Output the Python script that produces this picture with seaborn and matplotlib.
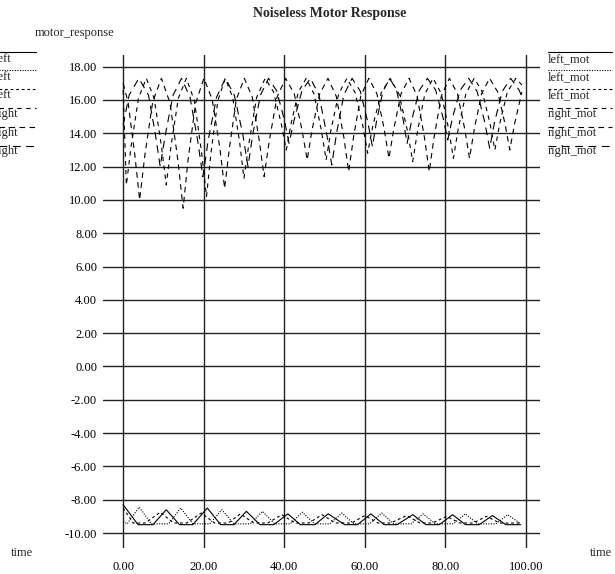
import matplotlib
matplotlib.use("Agg")
import matplotlib.pyplot as plt
from matplotlib.lines import Line2D
import seaborn as sns
import pandas as pd

# ---------------- data ----------------
title = "Noiseless Motor Response"
y_label = "motor_response"
x_label = "time"
x_ticks = [0, 20, 40, 60, 80, 100]
y_ticks = [18, 16, 14, 12, 10, 8, 6, 4, 2, 0, -2, -4, -6, -8, -10]
legend_left = ["left", "left", "left", "right", "right", "right"]
legend_right = ["left_mot", "left_mot", "left_mot", "right_mot", "right_mot", "right_mot"]

# lower group (near -9)
s1_x = [0, 3.7, 7.4, 10.7, 14.0, 17.3, 20.9, 24.2, 27.5, 30.6, 34.0, 37.4, 40.9, 44.0, 47.6,
        50.9, 55.0, 58.2, 61.5, 64.8, 68.0, 71.9, 75.2, 78.5, 81.8, 85.0, 88.4, 91.7, 95.0, 98.7]
s1_y = [-8.3, -9.5, -9.5, -8.6, -9.5, -9.5, -8.5, -9.5, -9.5, -8.7, -9.5, -9.5, -8.85, -9.5, -9.5,
        -8.85, -9.5, -9.5, -8.85, -9.5, -9.5, -8.9, -9.5, -9.5, -8.9, -9.5, -9.5, -8.95, -9.5, -9.5]

s2_x = [0, 1.0, 4.0, 7.0, 11.3, 14.3, 17.3, 21.5, 24.5, 27.5, 31.6, 34.6, 37.6, 41.5, 44.5, 47.5,
        51.3, 54.3, 57.3, 61.2, 64.2, 67.2, 71.5, 74.5, 77.5, 82.0, 85.0, 88.0, 92.5, 95.5, 98.7]
s2_y = [-9.3, -9.45, -8.45, -9.45, -9.45, -8.5, -9.45, -9.45, -8.6, -9.45, -9.45, -8.7, -9.45,
        -9.45, -8.75, -9.45, -9.45, -8.8, -9.45, -9.45, -8.8, -9.45, -9.45, -8.85, -9.45, -9.45,
        -8.85, -9.45, -9.45, -8.9, -9.45]

s3_x = [0, 2.5, 5.5, 9.2, 12.5, 15.8, 19.4, 22.7, 26.1, 29.1, 32.4, 35.9, 39.4, 42.7, 46.1,
        49.4, 52.7, 56.7, 60.0, 63.3, 66.4, 70.4, 73.7, 76.8, 80.3, 83.6, 86.9, 90.2, 93.5, 98.7]
s3_y = [-8.5, -9.4, -9.4, -8.75, -9.4, -9.4, -8.8, -9.4, -9.4, -8.85, -9.4, -9.4, -8.9, -9.4, -9.4,
        -8.9, -9.4, -9.4, -8.95, -9.4, -9.4, -8.95, -9.4, -9.4, -9.0, -9.4, -9.4, -9.0, -9.4, -9.4]

# upper group (near 10..17.3)
s4_x = [0, 0.8, 2.0, 3.8, 5.75, 7.7, 9.5, 10.7, 11.9, 13.7, 15.7, 17.7, 19.5, 20.7,
        21.8, 23.5, 25.35, 27.2, 28.9, 30.0, 31.3, 33.15, 35.25, 37.35, 39.25, 40.5,
        41.7, 43.5, 45.45, 47.4, 49.2, 50.4, 51.6, 53.5, 55.55, 57.6, 59.5, 60.7,
        62.0, 64.1, 66.3, 68.5, 70.6, 71.9, 73.1, 74.9, 76.95, 79.0, 80.8, 82.0,
        83.2, 85.1, 87.15, 89.2, 91.1, 92.3, 93.5, 95.4, 97.5, 99.0]
s4_y = [16.6, 10.9, 13.25, 16.1, 17.3, 16.1, 13.25, 10.9, 13.25, 16.1, 17.3, 15.94, 12.8, 10.2,
        12.8, 15.94, 17.3, 16.15, 13.5, 11.3, 13.5, 16.15, 17.3, 16.48, 14.58, 13.0,
        14.58, 16.48, 17.3, 16.36, 14.2, 12.4, 14.2, 16.36, 17.3, 16.44, 14.46, 12.8,
        14.46, 16.44, 17.3, 16.35, 14.14, 12.3, 14.14, 16.35, 17.3, 16.38, 14.27, 12.5,
        14.27, 16.38, 17.3, 16.48, 14.58, 13.0, 14.58, 16.48, 17.3, 16.9]

s5_x = [0, 1.2, 2.9, 4.1, 5.4, 7.35, 9.5, 11.65, 13.6, 14.9, 16.1, 18.0, 20.05, 22.1, 24.0, 25.2,
        26.4, 28.1, 30.1, 32.05, 33.8, 35.0, 36.3, 38.2, 40.35, 42.5, 44.4, 45.7,
        46.9, 48.8, 50.85, 52.9, 54.8, 56.0, 57.2, 59.0, 61.0, 63.0, 64.8, 66.0,
        67.2, 69.0, 71.0, 73.0, 74.8, 76.0, 77.2, 79.0, 81.0, 83.0, 84.8, 86.0,
        87.2, 89.0, 91.0, 93.0, 94.8, 96.0, 97.2, 99.0]
s5_y = [17.0, 15.9, 12.7, 10.0, 12.7, 15.9, 17.3, 15.81, 12.37, 9.5, 12.37, 15.81, 17.3, 16.04, 13.13, 10.7,
        13.13, 16.04, 17.3, 16.17, 13.57, 11.4, 13.57, 16.17, 17.3, 16.36, 14.2, 12.4,
        14.2, 16.36, 17.3, 16.23, 13.76, 11.7, 13.76, 16.23, 17.3, 16.38, 14.27, 12.5,
        14.27, 16.38, 17.3, 16.23, 13.76, 11.7, 13.76, 16.23, 17.3, 16.38, 14.27, 12.5,
        14.27, 16.38, 17.3, 16.48, 14.58, 13.0, 14.58, 16.48]

s6_x = [0, 1.5, 3.9, 6.3, 8.0, 9.2, 10.5, 12.4, 14.5, 16.6, 18.5, 19.8, 21.1, 23.2, 25.4, 27.6,
        29.7, 31.0, 32.2, 34.1, 36.1, 38.1, 40.0, 41.2, 42.5, 44.4, 46.5, 48.6, 50.5, 51.8,
        53.0, 54.8, 56.85, 58.9, 60.7, 61.9, 62.9, 64.5, 66.2, 67.9, 69.5, 70.5,
        71.7, 73.5, 75.55, 77.6, 79.4, 80.6, 81.8, 83.7, 85.8, 87.9, 89.8, 91.0,
        92.2, 94.1, 96.2, 98.3, 99.0]
s6_y = [14.5, 16.3, 17.3, 16.29, 13.95, 12.0, 13.95, 16.29, 17.3, 16.17, 13.57, 11.4, 13.57, 16.17, 17.3, 16.29,
        13.95, 12.0, 13.95, 16.29, 17.3, 16.56, 14.84, 13.4, 14.84, 16.56, 17.3, 16.31, 14.01, 12.1,
        14.01, 16.31, 17.3, 16.52, 14.71, 13.2, 14.71, 16.52, 17.3, 16.56, 14.84, 13.4,
        14.84, 16.56, 17.3, 16.59, 14.96, 13.6, 14.96, 16.59, 17.3, 16.5, 14.65, 13.1,
        14.65, 16.5, 17.3, 16.6, 16.2]

# ---------------- style ----------------
sns.set_style("white")
plt.rcParams["font.family"] = ["Liberation Serif", "DejaVu Serif"]

W, H = 615, 574
fig = plt.figure(figsize=(W / 100, H / 100), dpi=100)
ax = fig.add_axes([103 / W, 1 - 548 / H, 437 / W, 493 / H])

LW = 0.8
styles = [
    "-",
    (0, (1, 1.3)),
    (0, (2.5, 2.5)),
    (0, (4, 4)),
    (0, (5, 4)),
    (0, (7, 5)),
]
series = [(s1_x, s1_y), (s2_x, s2_y), (s3_x, s3_y), (s4_x, s4_y), (s5_x, s5_y), (s6_x, s6_y)]

for (xs, ys), ls in zip(series, styles):
    df = pd.DataFrame({"x": xs, "y": ys})
    sns.lineplot(data=df, x="x", y="y", ax=ax, sort=False, estimator=None,
                 color="black", linewidth=LW, linestyle=ls)

ax.set_xlim(-5, 103.5)
ax.set_ylim(-10.9, 18.7)
for s in ax.spines.values():
    s.set_visible(False)

ax.set_xticks(x_ticks)
ax.set_xticklabels([f"{v:.2f}" for v in x_ticks])
ax.set_yticks(y_ticks)
ax.set_yticklabels([f"{v:.2f}" for v in y_ticks])
ax.tick_params(length=0, labelsize=9, colors="black")
ax.tick_params(axis="y", pad=4.3)
ax.tick_params(axis="x", pad=9)
ax.grid(True, color="#222222", linewidth=1.0)
ax.set_axisbelow(True)
ax.set_xlabel("")
ax.set_ylabel("")

# texts
fig.text(330 / W, 1 - 13 / H, title, ha="center", va="center", fontsize=10, fontweight="bold")
fig.text(35 / W, 1 - 33 / H, y_label, ha="left", va="center", fontsize=9)
fig.text(11 / W, 1 - 553 / H, x_label, ha="left", va="center", fontsize=9)
fig.text(590 / W, 1 - 553 / H, x_label, ha="left", va="center", fontsize=9)

# legends
line_ys = [52, 70, 89, 108, 127, 146]
text_ys = [59, 77, 95, 114, 133, 151]
for i in range(6):
    ly = 1 - line_ys[i] / H
    ty = 1 - text_ys[i] / H
    fig.add_artist(Line2D([-30 / W, 36 / W], [ly, ly], transform=fig.transFigure,
                          color="black", linewidth=LW, linestyle=styles[i]))
    fig.add_artist(Line2D([548 / W, 612 / W], [ly, ly], transform=fig.transFigure,
                          color="black", linewidth=LW, linestyle=styles[i]))
    fig.text(-5 / W, ty, legend_left[i], ha="left", va="center", fontsize=9)
    fig.text(548 / W, ty, legend_right[i], ha="left", va="center", fontsize=9)

fig.savefig("out.png", dpi=100)
